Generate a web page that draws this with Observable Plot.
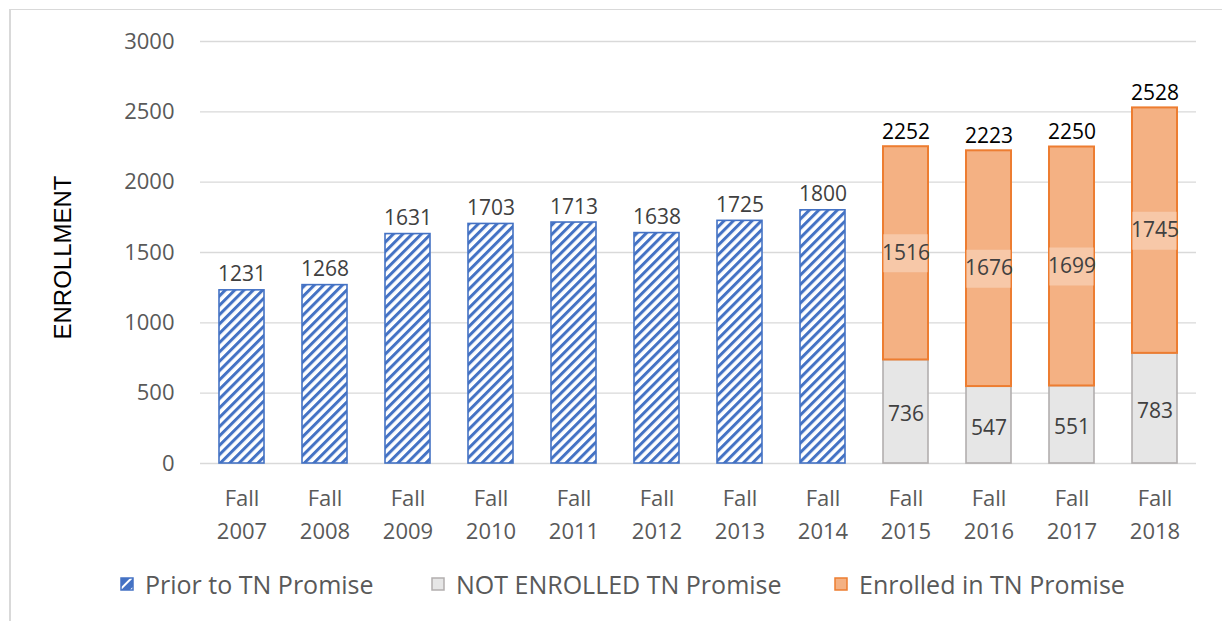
<!DOCTYPE html>
<html>
<head>
<meta charset="utf-8">
<script src="https://cdn.jsdelivr.net/npm/d3@7"></script>
<script src="https://cdn.jsdelivr.net/npm/@observablehq/plot@0.6"></script>
<style>
  html, body { margin: 0; padding: 0; background: #fff; }
  #wrap { position: relative; width: 1222px; height: 621px; overflow: hidden; font-family: "Open Sans", sans-serif; }
  #frame { position: absolute; left: 9px; top: 9px; width: 1220px; height: 620px; border-top: 1px solid #d9d9d9; border-left: 2px solid #d9d9d9; box-sizing: border-box; }
  #chart { position: absolute; left: 0; top: 0; }
  #legend { position: absolute; left: 0; top: 567px; width: 1222px; height: 34px; }
  .item { position: absolute; top: 0; display: flex; align-items: center; height: 34px; font-size: 25px; color: #595959; white-space: nowrap; }
  .item svg { margin-right: 11px; }
</style>
</head>
<body>
<div id="wrap">
  <div id="frame"></div>
  <div id="chart"></div>
  <div id="legend"></div>
</div>
<script>
// ---- data ----
const years = ["2007","2008","2009","2010","2011","2012","2013","2014","2015","2016","2017","2018"];
const priorYears = ["2007","2008","2009","2010","2011","2012","2013","2014"];
const priorValues = [1231, 1268, 1631, 1703, 1713, 1638, 1725, 1800];
const promiseYears = ["2015","2016","2017","2018"];
const notEnrolledValues = [736, 547, 551, 783];
const enrolledValues = [1516, 1676, 1699, 1745];
const totalValues = [2252, 2223, 2250, 2528];
const yTicks = [0, 500, 1000, 1500, 2000, 2500, 3000];
const seriesNames = ["Prior to TN Promise", "NOT ENROLLED TN Promise", "Enrolled in TN Promise"];
const yTitle = "ENROLLMENT";

// ---- tables ----
const prior = priorYears.map((y, i) => ({year: y, value: priorValues[i]}));
const promise = promiseYears.map((y, i) => ({
  year: y,
  notEnrolled: notEnrolledValues[i],
  enrolled: enrolledValues[i],
  total: totalValues[i]
}));

const blue = "#4472C4", orange = "#ED7D31", orangeFill = "#F4B183";
const grayFill = "#E6E6E6", grayStroke = "#B2AEAE";
const font = "'Open Sans', sans-serif";

const chart = Plot.plot({
  width: 1222,
  height: 556,
  marginLeft: 200,
  marginRight: 26,
  marginTop: 41,
  marginBottom: 93,
  style: {fontFamily: font, background: "transparent"},
  x: {domain: years, paddingInner: 0.46, paddingOuter: 0.23, label: null},
  y: {domain: [0, 3000], label: null},
  marks: [
    Plot.gridY(yTicks, {stroke: "#d9d9d9", strokeOpacity: 1, strokeWidth: 1.4}),
    Plot.axisY(yTicks, {tickSize: 0, tickPadding: 26, fontSize: 22, fill: "#595959", label: null,
                        tickFormat: d => String(d)}),
    Plot.axisX({tickSize: 0, tickPadding: 19, fontSize: 22, fill: "#595959", lineHeight: 1.5,
                tickFormat: d => "Fall\n" + d, label: null}),
    Plot.text([yTitle], {frameAnchor: "left", textAnchor: "middle", rotate: -90, dx: -137, dy: 5, fontSize: 24,
                         fontFamily: "'Liberation Sans', Arial, sans-serif", fill: "#000"}),
    // prior bars (hatched)
    Plot.barY(prior, {x: "year", y: "value", fill: "url(#hatch)", stroke: blue, strokeWidth: 1.6}),
    // not enrolled
    Plot.barY(promise, {x: "year", y1: 0, y2: "notEnrolled", fill: grayFill, stroke: grayStroke, strokeWidth: 1.6}),
    // enrolled
    Plot.barY(promise, {x: "year", y1: "notEnrolled", y2: "total", fill: orangeFill, stroke: orange, strokeWidth: 2}),
    // label boxes on enrolled
    Plot.tickY(promise, {x: "year", y: d => d.notEnrolled + d.enrolled / 2, stroke: "#fff", strokeOpacity: 0.3, strokeWidth: 38}),
    // labels
    Plot.text(prior, {x: "year", y: "value", text: d => String(d.value), lineAnchor: "bottom", dy: -9, fontSize: 21, fill: "#404040"}),
    Plot.text(promise, {x: "year", y: "total", text: d => String(d.total), lineAnchor: "bottom", dy: -8, fontSize: 21, fill: "#000"}),
    Plot.text(promise, {x: "year", y: d => d.notEnrolled + d.enrolled / 2, text: d => String(d.enrolled), fontSize: 21, fill: "#404040"}),
    Plot.text(promise, {x: "year", y: d => d.notEnrolled / 2, text: d => String(d.notEnrolled), fontSize: 21, fill: "#404040", dy: 3})
  ]
});

// hatch pattern
const defs = d3.select(chart).insert("defs", ":first-child");
const pat = defs.append("pattern").attr("id", "hatch").attr("patternUnits", "userSpaceOnUse")
  .attr("width", 6.6).attr("height", 6.6).attr("patternTransform", "rotate(45)");
pat.append("rect").attr("width", 6.6).attr("height", 6.6).attr("fill", "#fff");
pat.append("rect").attr("x", 0).attr("width", 3).attr("height", 6.6).attr("fill", blue);

document.getElementById("chart").appendChild(chart);

// legend
const legend = d3.select("#legend");
const legendLeft = [120, 431, 834];
const swatches = [
  {fill: "url(#hatchSw)", stroke: blue},
  {fill: grayFill, stroke: grayStroke},
  {fill: orangeFill, stroke: orange}
];
seriesNames.forEach((name, i) => {
  const item = legend.append("div").attr("class", "item").style("left", legendLeft[i] + "px");
  const s = item.append("svg").attr("width", 14).attr("height", 14);
  if (i === 0) {
    const p = s.append("defs").append("pattern").attr("id", "hatchSw").attr("patternUnits", "userSpaceOnUse")
      .attr("width", 8).attr("height", 8).attr("patternTransform", "rotate(45)");
    p.append("rect").attr("width", 8).attr("height", 8).attr("fill", blue);
    p.append("rect").attr("x", 0).attr("width", 2).attr("height", 8).attr("fill", "#fff");
  }
  s.append("rect").attr("x", 1).attr("y", 1).attr("width", 12).attr("height", 12)
    .attr("fill", swatches[i].fill).attr("stroke", swatches[i].stroke).attr("stroke-width", 1.5);
  item.append("span").text(name);
});
</script>
</body>
</html>
